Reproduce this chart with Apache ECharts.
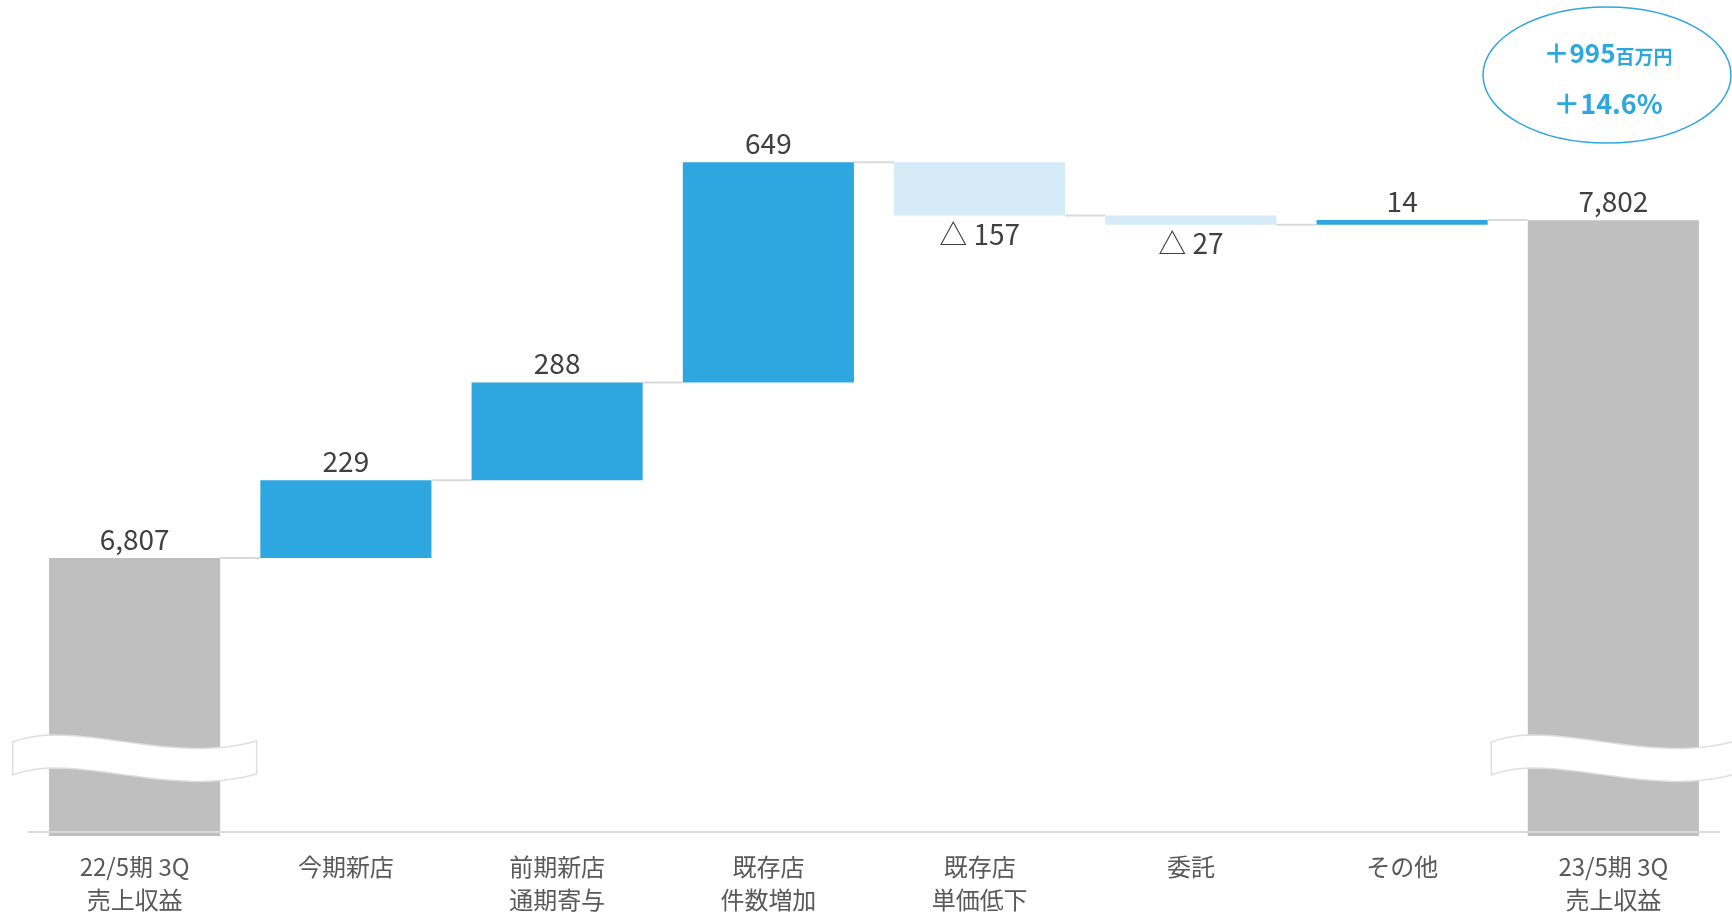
<!DOCTYPE html>
<html>
<head>
<meta charset="utf-8">
<script src="https://cdn.jsdelivr.net/npm/echarts@6/dist/echarts.min.js"></script>
<style>
  html, body { margin: 0; padding: 0; background: #fff; }
  #chart { width: 1732px; height: 912px; }
</style>
</head>
<body>
<div id="chart"></div>
<script>
// 売上収益の増減（百万円）
const categories = ['22/5期 3Q\n売上収益', '今期新店', '前期新店\n通期寄与', '既存店\n件数増加', '既存店\n単価低下', '委託', 'その他', '23/5期 3Q\n売上収益'];
const changes = [6807, 229, 288, 649, -157, -27, 14, 7802];
const isTotal = [true, false, false, false, false, false, false, true];
const valueLabels = ['6,807', '229', '288', '649', '△ 157', '△ 27', '14', '7,802'];
const diffText = '＋995';
const diffUnit = '百万円';
const rateText = '＋14.6%';

const axisMin = 6000;
const axisMax = 8000;
const fontFamily = '"Noto Sans CJK JP", "Noto Sans", sans-serif';

// 各棒の開始値・終了値を積み上げで求める
let running = 0;
const bars = changes.map(function (v, i) {
    let start, end;
    if (isTotal[i]) {
        start = axisMin;
        end = v;
        running = v;
    } else {
        start = running;
        end = running + v;
        running = end;
    }
    return [i, start, end];
});

// 省略記号（波線）を多角形で作る
function breakMark(cx, cy) {
    const top = [[-122, -16], [-60, -40], [35, 8], [122, -17]];
    const pts = [];
    const n = 24;
    function bez(p, t) {
        const u = 1 - t;
        return [
            u * u * u * p[0][0] + 3 * u * u * t * p[1][0] + 3 * u * t * t * p[2][0] + t * t * t * p[3][0],
            u * u * u * p[0][1] + 3 * u * u * t * p[1][1] + 3 * u * t * t * p[2][1] + t * t * t * p[3][1]
        ];
    }
    for (let k = 0; k <= n; k++) {
        const q = bez(top, k / n);
        pts.push([cx + q[0], cy + q[1]]);
    }
    for (let k = n; k >= 0; k--) {
        const q = bez(top, k / n);
        pts.push([cx + q[0], cy + q[1] + 33]);
    }
    return {
        type: 'polygon',
        shape: { points: pts },
        style: { fill: '#ffffff', stroke: '#dedede', lineWidth: 1.5 }
    };
}

function renderBar(params, api) {
    const i = api.value(0);
    const start = api.value(1);
    const end = api.value(2);
    const p0 = api.coord([i, start]);
    const p1 = api.coord([i, end]);
    const bw = api.size([1, 0])[0] * 0.81;
    const cx = p0[0];
    const total = isTotal[i];
    const neg = changes[i] < 0;
    const yTop = Math.min(p0[1], p1[1]);
    let yBottom = Math.max(p0[1], p1[1]);
    if (total) yBottom += 4;
    const color = total ? '#bfbfbf' : (neg ? '#d5ebf7' : '#2ea7e0');

    const children = [];
    children.push({
        type: 'rect',
        shape: { x: cx - bw / 2, y: yTop, width: bw, height: yBottom - yTop },
        style: { fill: color }
    });
    if (i < bars.length - 1) {
        const next = api.coord([i + 1, end]);
        children.push({
            type: 'line',
            shape: { x1: cx + bw / 2, y1: p1[1], x2: next[0] - bw / 2, y2: p1[1] },
            style: { stroke: '#d9d9d9', lineWidth: 2 }
        });
    }
    if (total) {
        children.push(breakMark(cx, p0[1] - 74));
    }
    children.push({
        type: 'text',
        x: cx,
        y: neg ? yBottom + 5 : yTop - 5,
        style: {
            text: valueLabels[i],
            fill: '#404040',
            fontSize: 28,
            fontFamily: fontFamily,
            align: 'center',
            verticalAlign: neg ? 'top' : 'bottom'
        }
    });
    return { type: 'group', children: children };
}

const chart = echarts.init(document.getElementById('chart'));
chart.setOption({
    animation: false,
    backgroundColor: '#ffffff',
    grid: { left: 29, right: 13, top: 153, bottom: 80, outerBoundsMode: 'none' },
    xAxis: {
        type: 'category',
        data: categories,
        z: 10,
        axisTick: { show: false },
        axisLine: { lineStyle: { color: '#d9d9d9', width: 2 } },
        axisLabel: {
            interval: 0,
            color: '#595959',
            fontSize: 24,
            lineHeight: 33,
            margin: 18,
            fontFamily: fontFamily
        }
    },
    yAxis: {
        type: 'value',
        min: axisMin,
        max: axisMax,
        show: false,
        splitLine: { show: false }
    },
    series: [{
        type: 'custom',
        renderItem: renderBar,
        encode: { x: 0, y: [1, 2] },
        data: bars
    }],
    graphic: [
        {
            type: 'ellipse',
            shape: { cx: 1607, cy: 75, rx: 124, ry: 68 },
            style: { fill: 'none', stroke: '#2ea7e0', lineWidth: 1.5 }
        },
        {
            type: 'text',
            x: 1608,
            y: 53,
            style: {
                text: '{a|' + diffText + '}{b|' + diffUnit + '}',
                align: 'center',
                verticalAlign: 'middle',
                rich: {
                    a: { fontSize: 26, fontWeight: 'bold', fill: '#2ea7e0', fontFamily: fontFamily, verticalAlign: 'bottom' },
                    b: { fontSize: 19, fontWeight: 'bold', fill: '#2ea7e0', fontFamily: fontFamily, verticalAlign: 'bottom' }
                }
            }
        },
        {
            type: 'text',
            x: 1608,
            y: 104,
            style: {
                text: rateText,
                fill: '#2ea7e0',
                fontSize: 27,
                fontWeight: 'bold',
                fontFamily: fontFamily,
                align: 'center',
                verticalAlign: 'middle'
            }
        }
    ]
});
</script>
</body>
</html>
